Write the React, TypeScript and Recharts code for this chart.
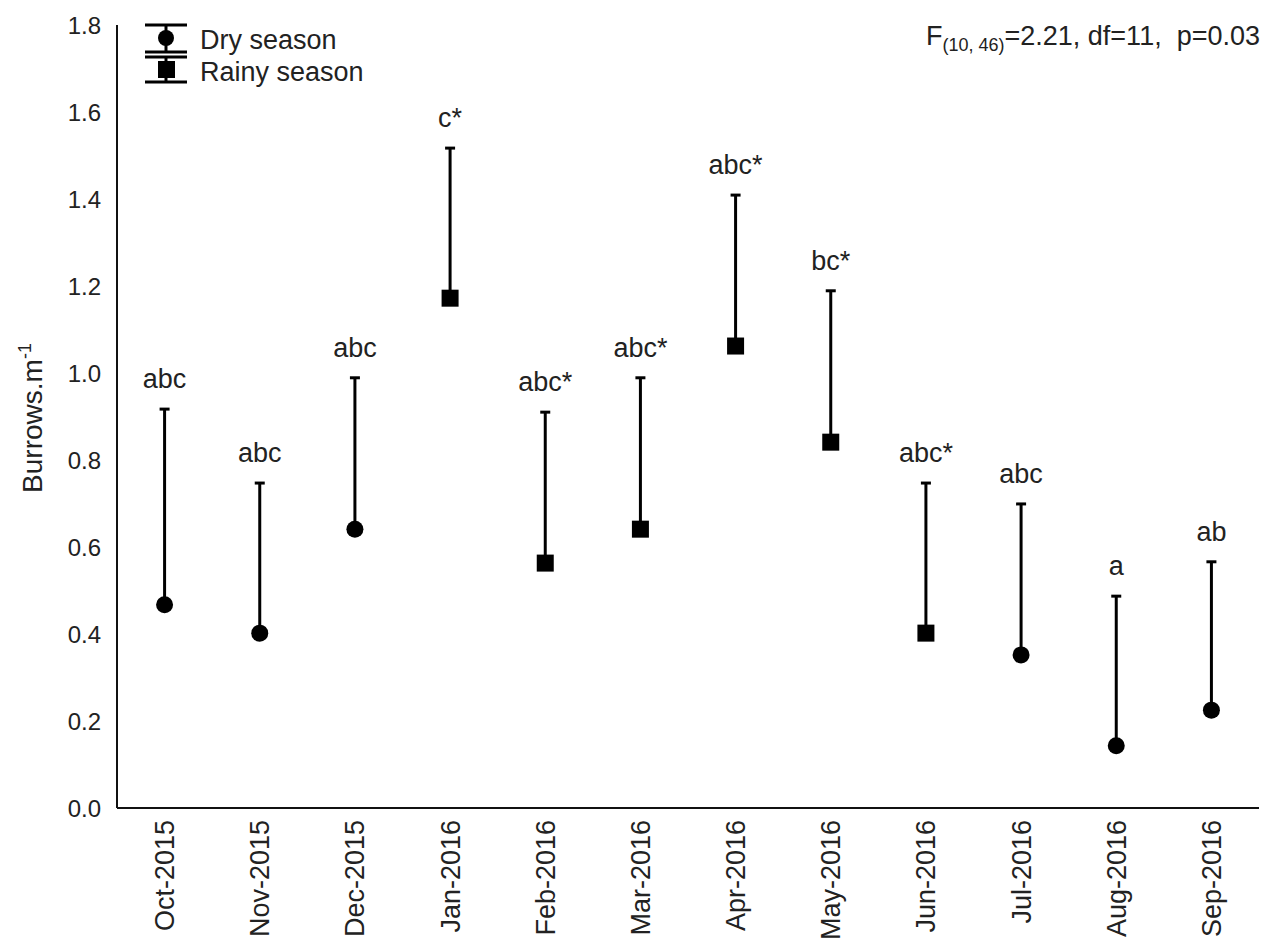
import React from 'react';
import {ComposedChart, Line, XAxis, YAxis, ErrorBar, LabelList, Legend, Customized} from 'recharts';

const months = ['Oct-2015', 'Nov-2015', 'Dec-2015', 'Jan-2016', 'Feb-2016', 'Mar-2016',
    'Apr-2016', 'May-2016', 'Jun-2016', 'Jul-2016', 'Aug-2016', 'Sep-2016'];
const dryMeans = [0.467, 0.402, 0.641, null, null, null, null, null, null, 0.352, 0.143, 0.225];
const rainyMeans = [null, null, null, 1.172, 0.563, 0.641, 1.062, 0.841, 0.402, null, null, null];
const upperValues = [0.917, 0.747, 0.989, 1.517, 0.910, 0.989, 1.409, 1.189, 0.747, 0.699, 0.487, 0.566];
const letters = ['abc', 'abc', 'abc', 'c*', 'abc*', 'abc*', 'abc*', 'bc*', 'abc*', 'abc', 'a', 'ab'];
const yTicks = [0, 0.2, 0.4, 0.6, 0.8, 1.0, 1.2, 1.4, 1.6, 1.8];

const FONT = '"Liberation Sans", Arial, sans-serif';
const TEXT = '#222';

const data = months.map((m, i) => ({
    month: m,
    dry: dryMeans[i],
    rainy: rainyMeans[i],
    dryErr: dryMeans[i] == null ? null : [0, upperValues[i] - (dryMeans[i] as number)],
    rainyErr: rainyMeans[i] == null ? null : [0, upperValues[i] - (rainyMeans[i] as number)],
    upper: upperValues[i],
    letter: letters[i],
}));

const CircleDot = (props: any) => {
    const {cx, cy} = props;
    if (cx == null || cy == null) return <g/>;
    return <circle cx={cx} cy={cy} r={8.5} fill="#000"/>;
};

const SquareDot = (props: any) => {
    const {cx, cy} = props;
    if (cx == null || cy == null) return <g/>;
    return <rect x={cx - 8.5} y={cy - 8.5} width={17} height={17} fill="#000"/>;
};

const MonthTick = (props: any) => {
    const {x, y, payload} = props;
    return (
        <text transform={`translate(${x},${y}) rotate(-90)`} textAnchor="end" dy="0.35em"
              fontSize={27} fill={TEXT} fontFamily={FONT}>
            {payload.value}
        </text>
    );
};

const LegendBox = () => (
    <svg width={260} height={70} style={{display: 'block'}}>
        <g stroke="#000" strokeWidth={3}>
            <line x1={5} y1={5} x2={47} y2={5}/>
            <line x1={26} y1={5} x2={26} y2={32}/>
            <line x1={5} y1={32} x2={47} y2={32}/>
            <line x1={5} y1={37} x2={47} y2={37}/>
            <line x1={26} y1={37} x2={26} y2={62}/>
            <line x1={5} y1={62} x2={47} y2={62}/>
        </g>
        <circle cx={26} cy={18} r={8} fill="#000"/>
        <rect x={18} y={41} width={17} height={17} fill="#000"/>
        <text x={60} y={29} fontSize={27} fill={TEXT} fontFamily={FONT}>Dry season</text>
        <text x={60} y={61} fontSize={27} fill={TEXT} fontFamily={FONT}>Rainy season</text>
    </svg>
);

const Annotations = () => (
    <g fontFamily={FONT} fill={TEXT}>
        <text x={1252} y={37} textAnchor="end" fontSize={27} style={{whiteSpace: 'pre'}}>
            F<tspan fontSize={18} dy={6}>(10, 46)</tspan><tspan fontSize={27} dy={-6}>=2.21, df=11,  p=0.03</tspan>
        </text>
        <text transform="translate(34,410) rotate(-90)" textAnchor="middle" fontSize={28}>
            Burrows.m<tspan fontSize={18} dy={-11}>-1</tspan>
        </text>
    </g>
);

export default function App() {
    return (
        <ComposedChart width={1266} height={937} data={data}
                       margin={{top: 17, right: 15, bottom: 17, left: 49}}>
            <XAxis dataKey="month" scale="band" height={120} interval={0} tickLine={false}
                   axisLine={{stroke: '#111', strokeWidth: 2}} tickMargin={6} tick={<MonthTick/>}/>
            <YAxis width={60} domain={[0, 1.8]} ticks={yTicks} tickLine={false} tickMargin={10}
                   axisLine={{stroke: '#111', strokeWidth: 2}}
                   tickFormatter={(v: number) => v.toFixed(1)}
                   tick={{fontSize: 24, fill: TEXT, fontFamily: FONT}}/>
            <Legend layout="horizontal" verticalAlign="middle" align="center"
                    wrapperStyle={{top: 12, left: 132, width: 260}} content={<LegendBox/>}/>
            <Line dataKey="upper" stroke="none" dot={false} activeDot={false} legendType="none"
                  isAnimationActive={false}>
                <LabelList dataKey="letter" position="top" offset={21} fontSize={27} fill={TEXT}
                           fontFamily={FONT}/>
            </Line>
            <Line dataKey="dry" name="Dry season" stroke="none" dot={<CircleDot/>} activeDot={false}
                  isAnimationActive={false}>
                <ErrorBar dataKey="dryErr" direction="y" width={5} stroke="#000" strokeWidth={3}/>
            </Line>
            <Line dataKey="rainy" name="Rainy season" stroke="none" dot={<SquareDot/>} activeDot={false}
                  isAnimationActive={false}>
                <ErrorBar dataKey="rainyErr" direction="y" width={5} stroke="#000" strokeWidth={3}/>
            </Line>
            <Customized component={<Annotations/>}/>
        </ComposedChart>
    );
}
